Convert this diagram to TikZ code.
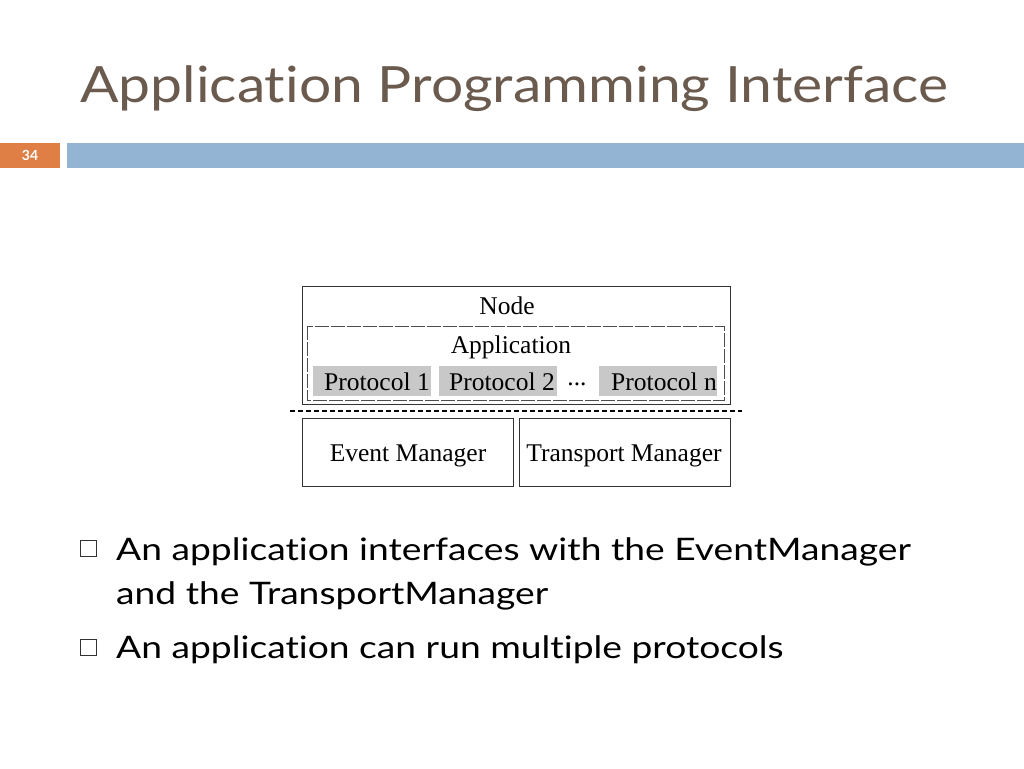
\documentclass[tikz,border=0pt]{standalone}
\usepackage{fontspec}
\setmainfont{Lato}
\newfontfamily\titlefont[FakeStretch=1.14,Ligatures={NoCommon,NoRequired,NoContextual}]{Lato}
\newfontfamily\bulfont[FakeStretch=1.2,Ligatures={NoCommon,NoRequired,NoContextual}]{Lato}
\newfontfamily\serif{Liberation Serif}
\definecolor{titlec}{HTML}{6B5A4E}
\definecolor{orangec}{HTML}{DF7F45}
\definecolor{bluec}{HTML}{93B5D3}
\definecolor{protc}{HTML}{C8C8C8}
\begin{document}
\begin{tikzpicture}[x=1pt,y=-1pt,
  box/.style={draw=black!80,line width=0.8pt},
  prot/.style={fill=protc,draw=none},
  lbl/.style={font=\serif\fontsize{25.5}{28}\selectfont,inner sep=0pt},
  bul/.style={font=\bulfont\fontsize{31}{37}\selectfont,anchor=base west,inner sep=0pt}]
\useasboundingbox (0,0) rectangle (1024,768);
\node[anchor=base west,text=titlec,font=\titlefont\fontsize{50}{60}\selectfont,inner sep=0pt] (title) at (80,102) {Application Programming Interface};
\fill[orangec] (0,143) rectangle (60,168);
\node[text=white,font=\bfseries\fontsize{14}{16}\selectfont] (num) at (30,155.5) {34};
\fill[bluec] (67,143) rectangle (1024,168);
% diagram
\draw[box] (302,286) rectangle (730,404);
\node[lbl] (node) at (507,306) {Node};
\draw[black!70,dash pattern=on 14pt off 2pt,line width=0.8pt] (307,326) rectangle (724,400);
\node[lbl] (app) at (511,347) {Application};
\fill[prot] (313,366) rectangle (431,396);
\fill[prot] (439,366) rectangle (557,396);
\fill[prot] (599,366) rectangle (717,396);
\node[lbl] (p1) at (377,382) {Protocol 1};
\node[lbl] (p2) at (502,382) {Protocol 2};
\node[lbl] (dots) at (577,384) {...};
\node[lbl] (pn) at (664,382) {Protocol n};
\draw[line width=2pt,dash pattern=on 5pt off 3pt] (290,411) -- (742,411);
\draw[box] (302,418) rectangle (513,486);
\draw[box] (519,418) rectangle (730,486);
\node[lbl] (em) at (408,456) {Event Manager};
\node[lbl] (tm) at (624,456) {Transport Manager};
% bullets
\draw[black!80,line width=0.9pt] (80,540) rectangle (96,556);
\draw[black!80,line width=0.9pt] (80,639) rectangle (96,655);
\node[bul] (b1) at (116,560) {An application interfaces with the EventManager};
\node[bul] (b1b) at (116,604) {and the TransportManager};
\node[bul] (b2) at (116,658) {An application can run multiple protocols};
\end{tikzpicture}
\end{document}
